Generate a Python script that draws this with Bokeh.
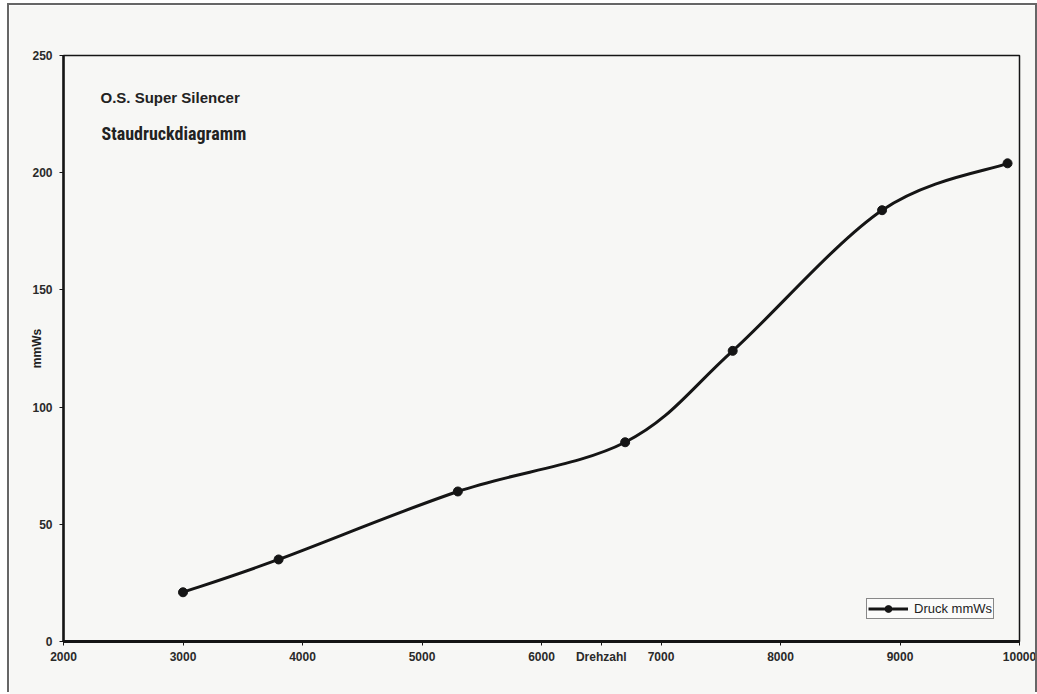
import numpy as np
from bokeh.plotting import figure
from bokeh.models import (Range1d, FixedTicker, Label, Legend, LegendItem,
                          ColumnDataSource)
from bokeh.embed import file_html
from bokeh.resources import INLINE

# ---- data ----
drehzahl = [3000, 3800, 5300, 6700, 7600, 8850, 9900]
druck = [21, 35, 64, 85, 124, 184, 204]
x_ticks = [2000, 3000, 4000, 5000, 6000, 7000, 8000, 9000, 10000]
y_ticks = [0, 50, 100, 150, 200, 250]
series_name = "Druck mmWs"
title1 = "O.S. Super Silencer"
title2 = "Staudruckdiagramm"
x_label = "Drehzahl"
x_label_at = 6500
y_label = "mmWs"

BG = "#f7f7f5"
INK = "#151515"
OX, OY = 9, 5   # canvas offset (page margin)
CW, CH = 1026, 689

p = figure(width=CW, height=CH, output_backend="svg", toolbar_location=None,
           x_range=Range1d(2000, 10000), y_range=Range1d(0, 250),
           min_border_left=63 - OX, min_border_right=(OX + CW) - 1019,
           min_border_top=55 - OY, min_border_bottom=(OY + CH) - 641)
p.margin = (OY, 0, 0, OX)
p.styles = {"box-shadow": "-2px -2px 0 0 #666, 2px -2px 0 0 #666"}
p.background_fill_color = BG
p.border_fill_color = BG
p.outline_line_color = INK
p.outline_line_width = 1.5
p.grid.visible = False

for ax, ticks in ((p.xaxis[0], x_ticks + [x_label_at]), (p.yaxis[0], y_ticks)):
    ax.ticker = FixedTicker(ticks=ticks)
    ax.minor_tick_line_color = None
    ax.major_tick_in = 0
    ax.major_tick_out = 4
    ax.major_tick_line_color = INK
    ax.major_label_text_font = "Liberation Sans"
    ax.major_label_text_font_style = "bold"
    ax.major_label_text_font_size = "12px"
    ax.major_label_text_color = "#2a2a2a"
    ax.axis_line_color = INK
p.xaxis.major_label_overrides = {x_label_at: x_label}
p.xaxis.axis_line_width = 3
p.yaxis.axis_line_width = 2.5
p.xaxis.major_label_standoff = 4
p.yaxis.major_label_standoff = 7
p.yaxis.axis_label = y_label
p.yaxis.axis_label_text_font = "Liberation Sans"
p.yaxis.axis_label_text_font_style = "bold"
p.yaxis.axis_label_text_font_size = "12px"
p.yaxis.axis_label_text_color = "#222"
p.yaxis.axis_label_standoff = -15

# smooth (Catmull-Rom style) curve as cubic Bezier segments, built from the data
xs = np.array(drehzahl, dtype=float)
ys = np.array(druck, dtype=float)
xp = np.concatenate([[xs[0]], xs, [xs[-1]]])
yp = np.concatenate([[ys[0]], ys, [ys[-1]]])
n = len(xs)
cx0 = xs[:-1] + (xp[2:n + 1] - xp[0:n - 1]) / 6.0
cy0 = ys[:-1] + (yp[2:n + 1] - yp[0:n - 1]) / 6.0
cx1 = xs[1:] - (xp[3:n + 2] - xp[1:n]) / 6.0
cy1 = ys[1:] - (yp[3:n + 2] - yp[1:n]) / 6.0
bsrc = ColumnDataSource(dict(x0=xs[:-1], y0=ys[:-1], x1=xs[1:], y1=ys[1:],
                             cx0=cx0, cy0=cy0, cx1=cx1, cy1=cy1))
curve = p.bezier(x0="x0", y0="y0", x1="x1", y1="y1", cx0="cx0", cy0="cy0",
                 cx1="cx1", cy1="cy1", source=bsrc, line_color=INK, line_width=3)
pts = p.scatter(drehzahl, druck, size=9, marker="circle", fill_color=INK,
                line_color=INK)

legend = Legend(items=[LegendItem(label=series_name, renderers=[curve, pts])],
                location=(866 - 63, 22), orientation="vertical")
legend.label_text_font = "Liberation Sans"
legend.label_text_font_size = "13px"
legend.label_text_color = "#222"
legend.glyph_width = 40
legend.glyph_height = 17
legend.label_standoff = 6
legend.padding = 1
legend.margin = 0
legend.spacing = 0
legend.border_line_color = INK
legend.border_line_width = 1
legend.background_fill_color = "#fbfbfa"
legend.background_fill_alpha = 1
p.add_layout(legend)

p.add_layout(Label(x=100 - OX, y=97 - OY, x_units="canvas", y_units="canvas",
                   text=title1, text_font="Liberation Sans",
                   text_font_style="bold", text_font_size="15px",
                   text_color="#222", text_baseline="middle"))
p.add_layout(Label(x=101 - OX, y=133 - OY, x_units="canvas", y_units="canvas",
                   text=title2, text_font="Roboto Condensed",
                   text_font_style="bold", text_font_size="18px",
                   text_color="#222", text_baseline="middle"))

open("out.html", "w").write(file_html(p, INLINE))
